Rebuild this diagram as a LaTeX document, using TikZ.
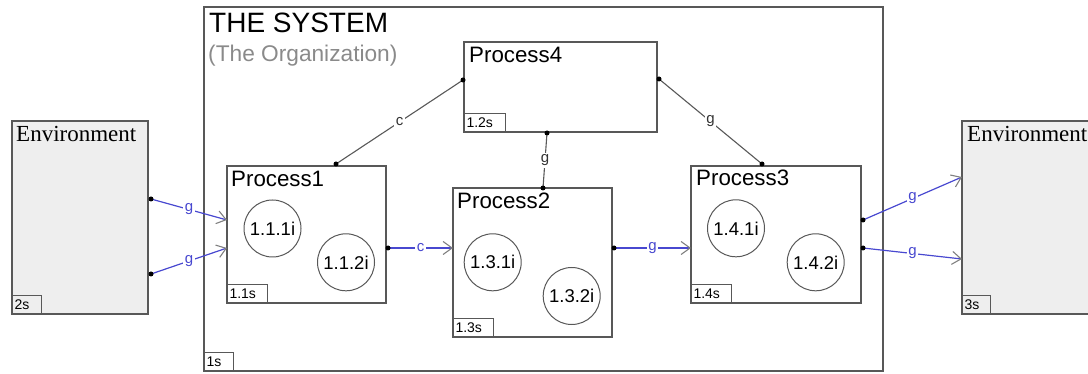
\documentclass[tikz,border=0pt]{standalone}
\usepackage{fontspec}
\setmainfont{Liberation Sans}
\newfontfamily\envfont{Liberation Serif}
\usetikzlibrary{arrows.meta,calc}
\definecolor{boxline}{HTML}{585858}
\definecolor{envfill}{HTML}{EEEEEE}
\definecolor{flowblue}{RGB}{72,72,208}
\definecolor{subtitle}{HTML}{8A8A8A}
\newcommand{\fsz}[1]{\fontsize{#1}{#1}\selectfont}
\begin{document}
\begin{tikzpicture}[x=1pt,y=-1pt,
  box/.style={draw=boxline, line width=1.5pt, inner sep=0pt, outer sep=0pt, anchor=north west},
  envbox/.style={box, fill=envfill},
  tag/.style={draw=boxline, line width=1pt, inner xsep=2.5pt, inner ysep=0pt, outer sep=0pt,
    minimum height=18pt, text width=#1, align=left, anchor=south west, font=\fsz{14}},
  title/.style={anchor=base west, inner sep=0pt, font=\fsz{22.3}},
  envtitle/.style={anchor=base west, inner sep=0pt, font=\envfont\fsz{23}},
  item/.style={circle, draw=boxline, line width=1pt, minimum size=57pt, inner sep=0pt, font=\fsz{18.5}},
  flow/.style={draw=flowblue, line width=1.2pt,
    -{Straight Barb[length=9pt,width=13pt,color=gray,line width=1.1pt]}},
  link/.style={draw=boxline, line width=1.1pt},
  flowlbl/.style={fill=white, inner sep=1.5pt, text=flowblue, font=\fsz{15}},
  linklbl/.style={fill=white, inner sep=1.5pt, text=black!80, font=\fsz{15}},
  dot/.style={fill=black}
]
\useasboundingbox (0,0) rectangle (1088,374);

% outer system boundary
\node[box, minimum width=679pt, minimum height=364pt] (sys) at (204,7) {};
\node[anchor=base west, inner sep=0pt, font=\fsz{28}] (systitle) at (209,33) {THE SYSTEM};
\node[anchor=base west, inner sep=0pt, font=\fsz{22.7}, text=subtitle] (syssub) at (208,62) {(The Organization)};
\node[tag=24pt] (syss) at (sys.south west) {1s};

% environments
\node[envbox, minimum width=136pt, minimum height=193pt] (envL) at (12,121) {};
\node[envtitle] (envLt) at (16,142) {Environment};
\node[tag=24pt] (envLs) at (envL.south west) {2s};

\node[envbox, minimum width=200pt, minimum height=193pt] (envR) at (962,121) {};
\node[envtitle] (envRt) at (967,142) {Environment};
\node[tag=23pt] (envRs) at (envR.south west) {3s};

% processes
\node[box, minimum width=159pt, minimum height=137pt] (p1) at (227,166) {};
\node[title] (p1t) at (231,187) {Process1};
\node[tag=35pt] (p1s) at (p1.south west) {1.1s};
\node[item] (c111) at (272.5,228.5) {1.1.1i};
\node[item] (c112) at (346,262.3) {1.1.2i};

\node[box, minimum width=159pt, minimum height=149pt] (p2) at (453,188) {};
\node[title] (p2t) at (457,209) {Process2};
\node[tag=35pt] (p2s) at (p2.south west) {1.3s};
\node[item] (c131) at (492.7,262.3) {1.3.1i};
\node[item] (c132) at (571.7,296) {1.3.2i};

\node[box, minimum width=170pt, minimum height=137pt] (p3) at (691,166) {};
\node[title] (p3t) at (696,186) {Process3};
\node[tag=35pt] (p3s) at (p3.south west) {1.4s};
\node[item] (c141) at (736,228.3) {1.4.1i};
\node[item] (c142) at (815.7,262.3) {1.4.2i};

\node[box, minimum width=193pt, minimum height=90pt] (p4) at (464,42) {};
\node[title] (p4t) at (469,63) {Process4};
\node[tag=36pt] (p4s) at (p4.south west) {1.2s};

% connection points
\coordinate (eL1) at ($(envL.north east)+(3,78)$);
\coordinate (eL2) at ($(envL.north east)+(3,153)$);
\coordinate (p1in1) at ($(p1.north west)+(0,54)$);
\coordinate (p1in2) at ($(p1.north west)+(0,82)$);
\coordinate (p1out) at ($(p1.north east)+(2,82)$);
\coordinate (p1top) at ($(p1.north west)+(109,-2)$);
\coordinate (p2in) at ($(p2.north west)+(0,60)$);
\coordinate (p2out) at ($(p2.north east)+(2,60)$);
\coordinate (p2top) at ($(p2.north west)+(90,0)$);
\coordinate (p3in) at ($(p3.north west)+(0,82)$);
\coordinate (p3out1) at ($(p3.north east)+(2,54)$);
\coordinate (p3out2) at ($(p3.north east)+(2,82)$);
\coordinate (p3top) at ($(p3.north west)+(71,-2)$);
\coordinate (p4left) at ($(p4.north west)+(-1,38)$);
\coordinate (p4right) at ($(p4.north east)+(2,37)$);
\coordinate (p4bot) at ($(p4.south west)+(83,1)$);
\coordinate (eR1) at ($(envR.north west)+(0,56)$);
\coordinate (eR2) at ($(envR.north west)+(0,138)$);

% flows between environment and processes
\draw[flow] (eL1) -- node[flowlbl] {g} (p1in1);
\draw[flow] (eL2) -- node[flowlbl] {g} (p1in2);
\draw[flow] (p1out) -- node[flowlbl] {c} (p2in);
\draw[flow] (p2out) -- node[flowlbl] {g} (p3in);
\draw[flow] (p3out1) -- node[flowlbl] {g} (eR1);
\draw[flow] (p3out2) -- node[flowlbl] {g} (eR2);

% links to the coordinating process
\draw[link] (p4left) -- node[linklbl] {c} (p1top);
\draw[link] (p4bot) -- node[linklbl] {g} (p2top);
\draw[link] (p4right) -- node[linklbl] {g} (p3top);

% connection dots
\foreach \p in {eL1,eL2,p1out,p2out,p3out1,p3out2,p4left,p4right,p4bot,p1top,p2top,p3top}
  \fill[dot] (\p) circle (2.5pt);
\end{tikzpicture}
\end{document}
